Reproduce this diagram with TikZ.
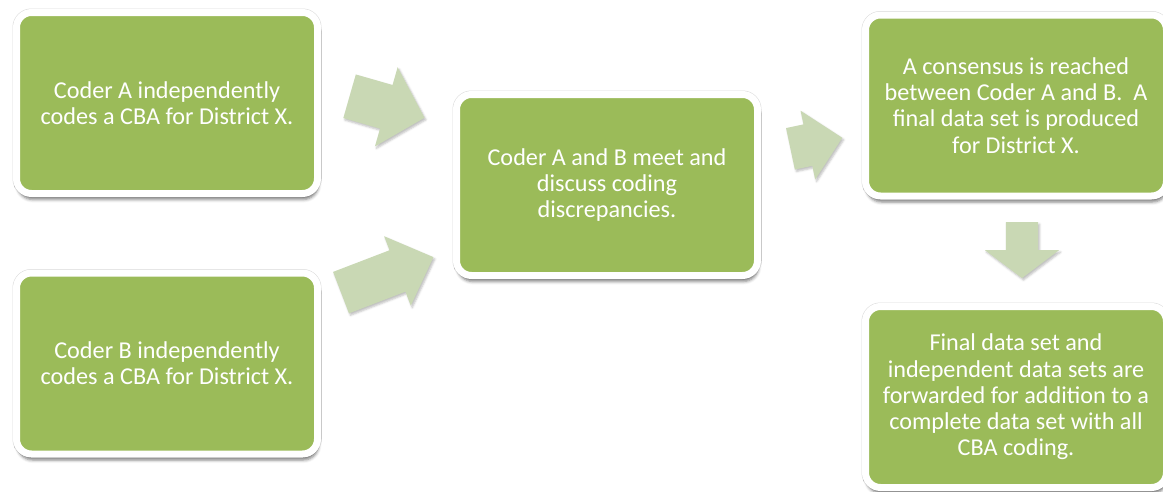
\documentclass[tikz,border=0pt]{standalone}
\usepackage{fontspec}
\setmainfont{Carlito}
\usetikzlibrary{shapes.arrows,shadows.blur}
\definecolor{boxgreen}{RGB}{155,187,89}
\definecolor{arrowgreen}{RGB}{201,216,180}
\begin{document}
\begin{tikzpicture}[x=1pt,y=-1pt,
  codebox/.style={rectangle,rounded corners=15pt,fill=boxgreen,draw=white,line width=7pt,
    minimum width=301pt,minimum height=181pt,text=white,align=center,
    font=\fontsize{24.2}{26.2}\selectfont,
    preaction={draw=black!15,line width=8pt},
    blur shadow={shadow xshift=1pt,shadow yshift=-6pt,shadow blur radius=3pt,shadow opacity=50}},
  blockarrow/.style={single arrow,fill=arrowgreen,inner xsep=0pt,single arrow head indent=0pt,
    blur shadow={shadow xshift=1.5pt,shadow yshift=-2pt,shadow blur radius=2pt,shadow opacity=25}}]
\useasboundingbox (0,0) rectangle (1163,491);
\node[codebox] (coderA) at (167,103) {Coder A independently\\codes a CBA for District X.};
\node[codebox] (coderB) at (167,363.5) {Coder B independently\\codes a CBA for District X.};
\node[codebox] (meet) at (607,185) {Coder A and B meet and\\discuss coding\\discrepancies.};
\node[codebox] (consensus) at (1016,105.5) {A consensus is reached\\between Coder A and B.\ \ A\\final data set is produced\\for District X.};
\node[codebox] (forward) at (1016,397) {Final data set and\\independent data sets are\\forwarded for addition to a\\complete data set with all\\CBA coding.};
% block arrows between the steps (shaft width = 2 x inner ysep)
\node[blockarrow,inner ysep=22.5pt,minimum height=78pt,single arrow head extend=18.5pt,single arrow tip angle=92,rotate=-16] (arrA) at (376.5,104) {};
\node[blockarrow,inner ysep=22pt,minimum height=99pt,single arrow head extend=15pt,single arrow tip angle=88,rotate=21] (arrB) at (376.5,279) {};
\node[blockarrow,inner ysep=21pt,minimum height=53pt,single arrow head extend=14pt,single arrow tip angle=90,rotate=12] (arrMeet) at (806,145.5) {};
\node[blockarrow,inner ysep=16pt,minimum height=56pt,single arrow head extend=21pt,single arrow tip angle=106,rotate=-90] (arrDown) at (1022,244) {};
\end{tikzpicture}
\end{document}
